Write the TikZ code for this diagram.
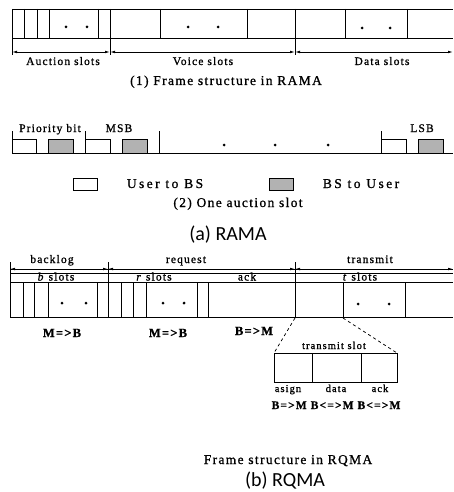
\documentclass[tikz,border=0pt]{standalone}
\usepackage{fontspec}
\setmainfont{Liberation Serif}
\newfontfamily\scanfont[LetterSpace=10,FakeBold=1]{Liberation Serif}
\newfontfamily\legfont[LetterSpace=18,FakeBold=1]{Liberation Serif}
\newfontfamily\capfont{Carlito}
\usetikzlibrary{arrows.meta,positioning,calc}

\begin{document}
\begin{tikzpicture}[x=1pt, y=-1pt, line width=0.75pt, >={Latex[length=5pt,width=2.6pt]}]
  \tikzstyle{lbl} = [inner sep=0pt, anchor=base, font=\scanfont\fontsize{11.5}{13}\selectfont]
  \tikzstyle{small} = [inner sep=0pt, anchor=base, font=\scanfont\fontsize{10.5}{12}\selectfont]
  \tikzstyle{dir} = [inner sep=0pt, anchor=base, font=\scanfont\bfseries\fontsize{12.5}{14}\selectfont]
  \tikzstyle{leg} = [inner sep=0pt, anchor=base, font=\legfont\fontsize{13.5}{15}\selectfont]
  \tikzstyle{capline} = [inner sep=0pt, anchor=base, font=\scanfont\fontsize{13.5}{15}\selectfont]
  \tikzstyle{sub} = [inner sep=0pt, anchor=base, font=\capfont\fontsize{20}{22}\selectfont]
  \tikzstyle{bs} = [draw, fill=gray!60]
  \useasboundingbox (0,0) rectangle (453,492);

  % (1) frame structure in RAMA
  \draw (12,9) -- (453,9) (12,38) -- (453,38);
  \draw (12,9) -- (12,55) (110,9) -- (110,55) (295,9) -- (295,55);
  \foreach \x in {24,37,49,98,160,247,345,407}
    \draw (\x,9) -- (\x,38);
  \fill (66,27) circle (1.5pt) (87,27) circle (1.5pt);
  \fill (188,27) circle (1.5pt) (218,27) circle (1.5pt);
  \fill (362,28) circle (1.5pt) (390,28) circle (1.5pt);
  \coordinate (fa) at (12,52);
  \coordinate (fb) at (110,52);
  \coordinate (fc) at (295,52);
  \coordinate (fd) at (453,52);
  \draw[<->] (fa) -- (fb);
  \draw[<->] (fb) -- (fc);
  \draw[<->] (fc) -- (fd);
  \node[lbl] (auction) at (63,65) {Auction slots};
  \node[lbl] (voice) at (203,65) {Voice slots};
  \node[lbl] (data) at (382,65) {Data slots};
  \node[capline] (cap1) at (226,85) {(1) Frame structure in RAMA};

  % (2) one auction slot
  \draw (12,153) -- (453,153);
  \draw (12,131) -- (12,153) (85,131) -- (85,153) (159,131) -- (159,153) (381,131) -- (381,153);
  \draw (12,139) rectangle (36,153);
  \draw[bs] (48,139) rectangle (73,153);
  \draw (85,139) rectangle (110,153);
  \draw[bs] (122,139) rectangle (147,153);
  \draw (381,139) rectangle (406,153);
  \draw[bs] (418,139) rectangle (443,153);
  \fill (224,145) circle (1.5pt) (275,145) circle (1.5pt) (328,145) circle (1.5pt);
  \node[lbl] (prio) at (50,132) {Priority bit};
  \node[lbl] (msb) at (119,132) {MSB};
  \node[lbl] (lsb) at (422,132) {LSB};
  \draw (73,178) rectangle (97,190);
  \node[leg] (ubs) at (165,188) {User to BS};
  \draw[bs] (269,178) rectangle (293,190);
  \node[leg] (bsu) at (361,188) {BS to User};
  \node[capline] (cap2) at (238,207) {(2) One auction slot};
  \node[sub] (rama) at (228,240) {(a) RAMA};

  % (b) frame structure in RQMA
  \draw (10,269) -- (453,269);
  \draw (10,273) -- (453,273) (10,282) -- (453,282) (10,317) -- (453,317);
  \draw (10,262) -- (10,317) (108,262) -- (108,317) (295,262) -- (295,318);
  \foreach \x in {23,34,48,97,121,133,146,197,208,343,405}
    \draw (\x,282) -- (\x,317);
  \fill (62,303) circle (1.5pt) (86,303) circle (1.5pt);
  \fill (163,303) circle (1.5pt) (184,303) circle (1.5pt);
  \fill (358,304) circle (1.5pt) (389,304) circle (1.5pt);
  \coordinate (ra) at (10,269);
  \coordinate (rb) at (108,269);
  \coordinate (rc) at (295,269);
  \coordinate (rd) at (453,269);
  \draw[<->] (ra) -- (rb);
  \draw[<->] (rb) -- (rc);
  \draw[<->] (rc) -- (rd);
  \node[lbl] (backlog) at (52,263) {backlog};
  \node[lbl] (request) at (186,263) {request};
  \node[lbl] (transmit) at (370,263) {transmit};
  \node[lbl] (bsl) at (56,280.5) {\textit{b} slots};
  \node[lbl] (rsl) at (154,280.5) {\textit{r} slots};
  \node[lbl] (rack) at (247,280.5) {ack};
  \node[lbl] (tsl) at (360,280.5) {\textit{t} slots};
  \node[dir] (mb1) at (62,337) {M=>B};
  \node[dir] (mb2) at (168,337) {M=>B};
  \node[dir] (bm1) at (254,335) {B=>M};

  % transmit slot detail
  \coordinate (ts1) at (295,318);
  \coordinate (ts2) at (343,318);
  \coordinate (tsa) at (274,353);
  \coordinate (tsb) at (397,353);
  \draw (tsa) rectangle (397,382);
  \draw (312,353) -- (312,382) (361,353) -- (361,382);
  \draw[dashed] (ts1) -- (tsa);
  \draw[dashed] (ts2) -- (tsb);
  \node[small] (tslot) at (334,349) {transmit slot};
  \node[small] (asign) at (288,392) {asign};
  \node[small] (tdata) at (336,392) {data};
  \node[small] (tack) at (380,392) {ack};
  \node[dir, font=\scanfont\bfseries\fontsize{11.5}{13}\selectfont] (dirs) at (336,409) {B=>M B<=>M B<=>M};
  \node[capline] (cap3) at (288,464) {Frame structure in RQMA};
  \node[sub] (rqma) at (285,486) {(b) RQMA};
\end{tikzpicture}
\end{document}
